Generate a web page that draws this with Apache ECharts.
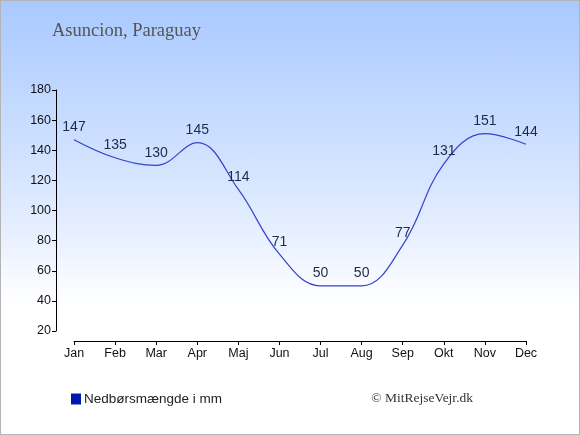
<!DOCTYPE html>
<html>
<head>
  <meta charset="utf-8">
  <title>Asuncion, Paraguay</title>
  <script src="https://fastly.jsdelivr.net/npm/echarts@6/dist/echarts.min.js"></script>
  <style>
    html, body { margin: 0; padding: 0; }
    #chart-container {
      width: 580px; height: 435px; box-sizing: border-box;
      border: 1px solid #b4b4b4;
      background: linear-gradient(to bottom, #a9c9ff 0%, #dbe8ff 45%, #ffffff 70%, #ffffff 100%);
    }
  </style>
</head>
<body>
<div id="chart-container"></div>
<script type="text/javascript">
  var months = ['Jan', 'Feb', 'Mar', 'Apr', 'Maj', 'Jun', 'Jul', 'Aug', 'Sep', 'Okt', 'Nov', 'Dec'];
  var rain = [147, 135, 130, 145, 114, 71, 50, 50, 77, 131, 151, 144];

  var dom = document.getElementById('chart-container');
  var myChart = echarts.init(dom, null, { renderer: 'canvas' });

  var option = {
    backgroundColor: 'transparent',
    title: {
      text: 'Asuncion, Paraguay',
      left: 51,
      top: 21,
      padding: 0,
      textStyle: { fontFamily: 'Liberation Serif', fontWeight: 'normal', fontSize: 18.5, color: '#555' }
    },
    grid: { left: 73, right: 53, top: 89, bottom: 103 },
    xAxis: {
      type: 'category',
      data: months,
      boundaryGap: false,
      offset: 10,
      axisLine: { lineStyle: { color: '#000' } },
      axisTick: { alignWithLabel: true, length: 4 },
      axisLabel: { color: '#111', fontFamily: 'Liberation Sans', fontSize: 12.5, margin: 6 },
      splitLine: { show: false }
    },
    yAxis: {
      type: 'value',
      min: 20,
      max: 180,
      interval: 20,
      offset: 18,
      axisLine: { show: true, lineStyle: { color: '#000' } },
      axisTick: { show: true, length: 4 },
      axisLabel: { color: '#111', fontFamily: 'Liberation Sans', fontSize: 12.5, margin: 5 },
      splitLine: { show: false }
    },
    legend: {
      left: 70,
      top: 391,
      padding: 0,
      itemWidth: 10,
      itemHeight: 11,
      itemGap: 4,
      icon: 'rect',
      textStyle: { fontFamily: 'Liberation Sans', fontSize: 13.5, color: '#222', padding: [0, 0, 0, -2] },
      data: [{ name: 'Nedbørsmængde i mm', itemStyle: { color: '#0018b0', opacity: 1 } }]
    },
    graphic: [{
      type: 'text',
      right: 106,
      top: 390,
      style: { text: '© MitRejseVejr.dk', font: '13.5px "Liberation Serif"', fill: '#333' }
    }],
    series: [{
      name: 'Nedbørsmængde i mm',
      type: 'line',
      data: rain,
      smooth: 0.4,
      symbol: 'circle',
      symbolSize: 1,
      showSymbol: true,
      itemStyle: { color: 'rgba(0,0,0,0)' },
      lineStyle: { color: '#3344cc', width: 1.2 },
      emphasis: { disabled: true },
      label: {
        show: true,
        position: 'top',
        distance: 5,
        fontFamily: 'Liberation Sans',
        fontSize: 14,
        color: '#1c2b4c'
      }
    }]
  };

  myChart.setOption(option);
  window.addEventListener('resize', myChart.resize);
</script>
</body>
</html>
